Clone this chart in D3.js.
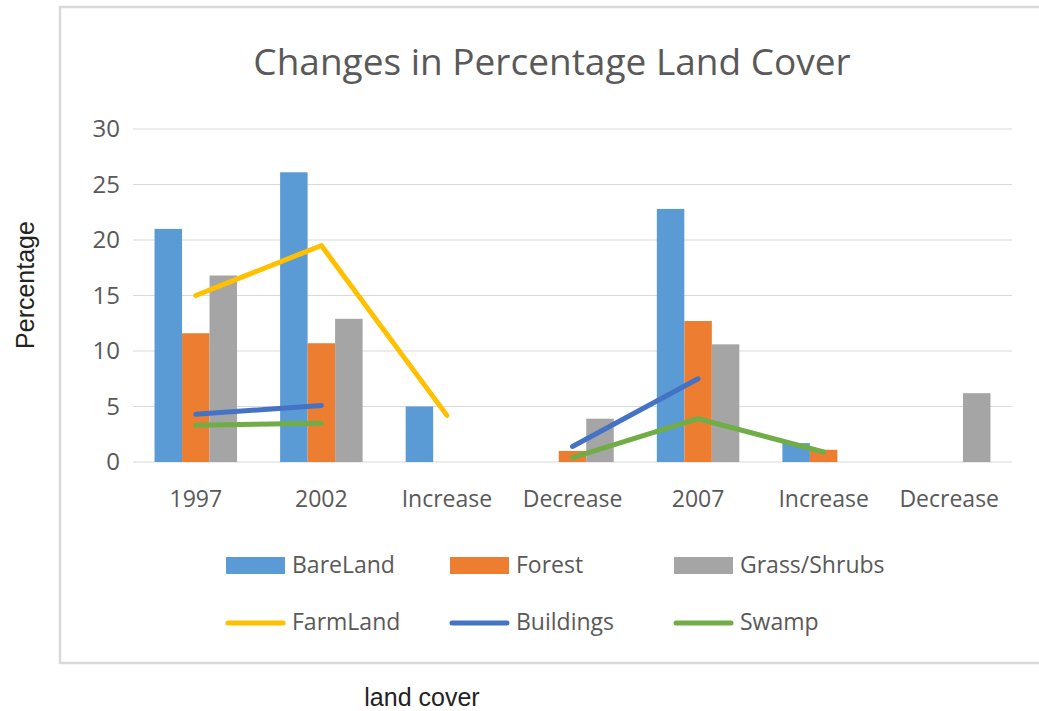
<!DOCTYPE html>
<html>
<head>
<meta charset="utf-8">
<script src="https://cdn.jsdelivr.net/npm/d3@7"></script>
<style>
  html, body { margin: 0; padding: 0; background: #fff; }
  svg { display: block; }
</style>
</head>
<body>
<svg id="chart" width="1039" height="711"></svg>
<script>
// Category labels along the x axis (two "Increase"/"Decrease" pairs, so indexed by position)
const categories = ["1997", "2002", "Increase", "Decrease", "2007", "Increase", "Decrease"];

// Column series (percent of land cover)
const bareLand = [21, 26.1, 5, null, 22.8, 1.7, null];
const forest   = [11.6, 10.7, null, 1.0, 12.7, 1.1, null];
const grass    = [16.8, 12.9, null, 3.9, 10.6, null, 6.2];

// Line series (gaps where no value)
const farmLand  = [15, 19.5, 4.2, null, null, null, null];
const buildings = [4.3, 5.1, null, 1.4, 7.5, null, null];
const swamp     = [3.3, 3.5, null, 0.4, 3.9, 0.9, null];

const yTicks = [0, 5, 10, 15, 20, 25, 30];

const barSeries = [
  { name: "BareLand", values: bareLand, color: "#5B9BD5" },
  { name: "Forest", values: forest, color: "#ED7D31" },
  { name: "Grass/Shrubs", values: grass, color: "#A5A5A5" }
];
const lineSeries = [
  { name: "FarmLand", values: farmLand, color: "#FFC000" },
  { name: "Buildings", values: buildings, color: "#4472C4" },
  { name: "Swamp", values: swamp, color: "#70AD47" }
];

const svg = d3.select("#chart");
const textFont = "'Open Sans', 'Noto Sans', sans-serif";
const labelColor = "#595959";

// Chart area frame
svg.append("rect")
  .attr("x", 60).attr("y", 7)
  .attr("width", 1000).attr("height", 656)
  .attr("fill", "#fff")
  .attr("stroke", "#d9d9d9").attr("stroke-width", 2.5);

const plot = { left: 133, right: 1012, top: 129, bottom: 462 };

const x = d3.scaleBand()
  .domain(d3.range(categories.length))
  .range([plot.left, plot.right])
  .paddingInner(0.343)
  .paddingOuter(0.1715);

const xSub = d3.scaleBand()
  .domain(barSeries.map(s => s.name))
  .range([0, x.bandwidth()]);

const y = d3.scaleLinear().domain([0, 30]).range([plot.bottom, plot.top]);

// Horizontal gridlines
svg.append("g")
  .selectAll("line")
  .data(yTicks)
  .join("line")
  .attr("x1", plot.left).attr("x2", plot.right)
  .attr("y1", d => y(d)).attr("y2", d => y(d))
  .attr("stroke", "#d9d9d9").attr("stroke-width", 1.2);

// Y axis labels
const yAxis = svg.append("g")
  .attr("transform", `translate(${plot.left},0)`)
  .call(d3.axisLeft(y).tickValues(yTicks).tickSize(0).tickPadding(13));
yAxis.select(".domain").remove();
yAxis.selectAll("text")
  .attr("font-family", textFont).attr("font-size", 24)
  .attr("fill", labelColor);

// X axis labels
const xAxis = svg.append("g")
  .attr("transform", `translate(0,${plot.bottom})`)
  .call(d3.axisBottom(x).tickFormat(i => categories[i]).tickSize(0).tickPadding(29));
xAxis.select(".domain").remove();
xAxis.selectAll("text")
  .attr("font-family", textFont).attr("font-size", 23)
  .attr("fill", labelColor);

// Columns
barSeries.forEach(s => {
  svg.append("g")
    .selectAll("rect")
    .data(s.values.map((v, i) => ({ v, i })).filter(d => d.v != null))
    .join("rect")
    .attr("x", d => x(d.i) + xSub(s.name))
    .attr("width", xSub.bandwidth())
    .attr("y", d => y(d.v))
    .attr("height", d => y(0) - y(d.v))
    .attr("fill", s.color);
});

// Lines through category centres
const line = d3.line()
  .defined(d => d.v != null)
  .x(d => x(d.i) + x.bandwidth() / 2)
  .y(d => y(d.v));

lineSeries.forEach(s => {
  svg.append("path")
    .datum(s.values.map((v, i) => ({ v, i })))
    .attr("d", line)
    .attr("fill", "none")
    .attr("stroke", s.color)
    .attr("stroke-width", 5)
    .attr("stroke-linecap", "round")
    .attr("stroke-linejoin", "round");
});

// Title
svg.append("text")
  .attr("x", 552).attr("y", 75)
  .attr("text-anchor", "middle")
  .attr("font-family", textFont).attr("font-size", 37)
  .attr("fill", labelColor)
  .text("Changes in Percentage Land Cover");

// Legend
const legendX = [226, 450, 674];
const legendRows = [565, 622];
const legend = svg.append("g");
barSeries.forEach((s, k) => {
  legend.append("rect")
    .attr("x", legendX[k]).attr("y", legendRows[0] - 8)
    .attr("width", 59).attr("height", 17)
    .attr("fill", s.color);
  legend.append("text")
    .attr("x", legendX[k] + 66).attr("y", legendRows[0])
    .attr("dy", "0.35em")
    .attr("font-family", textFont).attr("font-size", 23)
    .attr("fill", labelColor)
    .text(s.name);
});
lineSeries.forEach((s, k) => {
  legend.append("line")
    .attr("x1", legendX[k] + 2).attr("x2", legendX[k] + 57)
    .attr("y1", legendRows[1] + 1).attr("y2", legendRows[1] + 1)
    .attr("stroke", s.color).attr("stroke-width", 5)
    .attr("stroke-linecap", "round");
  legend.append("text")
    .attr("x", legendX[k] + 66).attr("y", legendRows[1])
    .attr("dy", "0.35em")
    .attr("font-family", textFont).attr("font-size", 23)
    .attr("fill", labelColor)
    .text(s.name);
});

// Axis titles outside the frame
svg.append("text")
  .attr("transform", "translate(34,285) rotate(-90)")
  .attr("text-anchor", "middle")
  .attr("font-family", "'Liberation Sans', Arial, sans-serif")
  .attr("font-size", 25)
  .attr("fill", "#222")
  .text("Percentage");

svg.append("text")
  .attr("x", 422).attr("y", 706)
  .attr("text-anchor", "middle")
  .attr("font-family", "'Liberation Sans', Arial, sans-serif")
  .attr("font-size", 25)
  .attr("fill", "#222")
  .text("land cover");
</script>
</body>
</html>
